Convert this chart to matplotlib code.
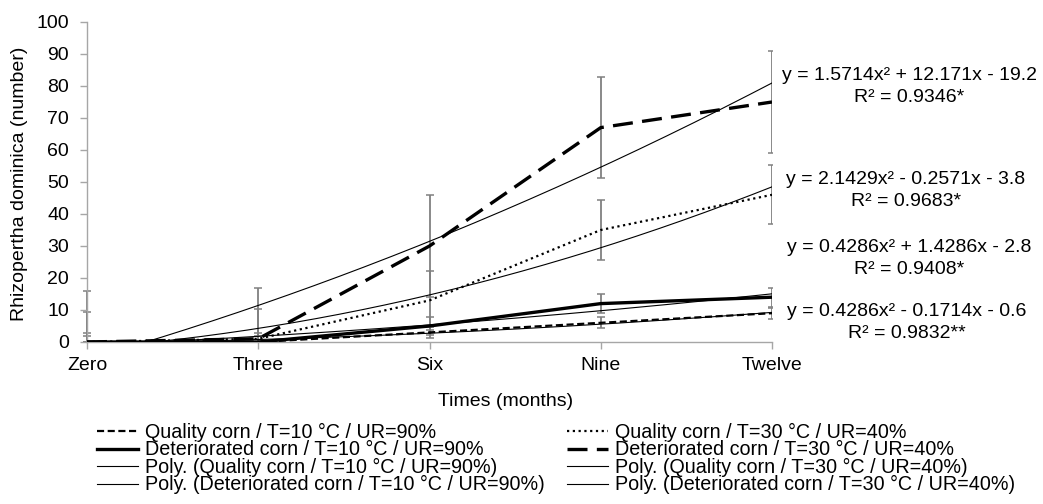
import numpy as np
from matplotlib import pyplot as plt

plt.rcParams['font.family'] = ['Liberation Sans', 'DejaVu Sans']

months = ["Zero", "Three", "Six", "Nine", "Twelve"]
x = np.array([1, 2, 3, 4, 5])

quality_10 = np.array([0, 0, 3, 6, 9])
deteriorated_10 = np.array([0, 0, 5, 12, 14])
quality_30 = np.array([0, 1, 13, 35, 46])
deteriorated_30 = np.array([0, 1, 30, 67, 75])

label_q10 = "Quality corn / T=10 °C / UR=90%"
label_d10 = "Deteriorated corn / T=10 °C / UR=90%"
label_q30 = "Quality corn / T=30 °C / UR=40%"
label_d30 = "Deteriorated corn / T=30 °C / UR=40%"

equations = [
    ("y = 1.5714x² + 12.171x - 19.2", "R² = 0.9346*"),
    ("y = 2.1429x² - 0.2571x - 3.8", "R² = 0.9683*"),
    ("y = 0.4286x² + 1.4286x - 2.8", "R² = 0.9408*"),
    ("y = 0.4286x² - 0.1714x - 0.6", "R² = 0.9832**"),
]


def std_error(y):
    # excel "standard error" bars: same value for every point of a series
    return np.std(y, ddof=1) / np.sqrt(len(y))


def trend(y, xs):
    c = np.polyfit(x, y, 2)
    return np.polyval(c, xs)


def main():
    W, H = 1043, 504
    fig = plt.figure(figsize=(W / 100, H / 100), dpi=100)
    ax = fig.add_axes([87 / W, 1 - 342 / H, (772 - 87) / W, (342 - 22) / H])

    series = [
        (quality_10, label_q10, dict(lw=1.6, dashes=(3.2, 1.6))),
        (quality_30, label_q30, dict(lw=1.6, linestyle=(0, (1, 1.6)))),
        (deteriorated_10, label_d10, dict(lw=2.4, linestyle="-")),
        (deteriorated_30, label_d30, dict(lw=2.4, dashes=(6, 2.8))),
    ]

    eb_style = dict(fmt="none", ecolor="#808080", elinewidth=1.3,
                    capsize=2.6, capthick=1.1, zorder=1)
    for y, _, _ in series:
        se = std_error(y)
        ax.errorbar(x[1:], y[1:], yerr=se, **eb_style)
        # first point sits on the y axis: show its upper half unclipped
        eb = ax.errorbar(x[:1], y[:1], yerr=[[0], [se]], **eb_style)
        for art in eb.get_children():
            art.set_clip_on(False)

    handles = {}
    for y, lab, st in series:
        line, = ax.plot(x, y, color="black", label=lab, zorder=3, **st)
        handles[lab] = line

    xs = np.linspace(1, 5, 300)
    for y, lab, _ in series:
        line, = ax.plot(xs, trend(y, xs), color="black", lw=0.8, zorder=2,
                        label="Poly. (" + lab + ")")
        handles["Poly. (" + lab + ")"] = line

    ax.set_xlim(1, 5)
    ax.set_ylim(0, 100)
    ax.set_xticks(x)
    ax.set_xticklabels(months)
    ax.set_yticks(np.arange(0, 101, 10))
    for s in ["top", "right"]:
        ax.spines[s].set_visible(False)
    for s in ["left", "bottom"]:
        ax.spines[s].set_color("#a6a6a6")
        ax.spines[s].set_linewidth(1.0)
    ax.tick_params(axis="both", direction="out", length=5, width=1.0,
                   color="#a6a6a6", labelsize=14, labelcolor="black")
    ax.tick_params(axis="y", pad=8)
    ax.tick_params(axis="x", pad=6)

    fig.text(20 / W, 1 - 184 / H, "Rhizopertha dominica (number)",
             rotation=90, ha="center", va="center", fontsize=14)
    fig.text(506 / W, 1 - 401 / H, "Times (months)", ha="center",
             va="center", fontsize=14)

    eq_pos = [(909, 75, 98), (906, 179, 201), (909, 247, 269), (907, 312, 334)]
    for (l1, l2), (cx, y1, y2) in zip(equations, eq_pos):
        fig.text(cx / W, 1 - y1 / H, l1, ha="center", va="center",
                 fontsize=14)
        fig.text(cx / W, 1 - y2 / H, l2, ha="center", va="center",
                 fontsize=14)

    order = [label_q10, label_d10, "Poly. (" + label_q10 + ")",
             "Poly. (" + label_d10 + ")", label_q30, label_d30,
             "Poly. (" + label_q30 + ")", "Poly. (" + label_d30 + ")"]
    fig.legend([handles[k] for k in order], order, ncol=2, loc="upper left",
               bbox_to_anchor=(97 / W, 1 - 423 / H), frameon=False,
               fontsize=14.2, handlelength=2.1, handletextpad=0.35,
               columnspacing=1.1, labelspacing=-0.08, borderpad=0,
               borderaxespad=0)

    fig.savefig("out.png", dpi=100)
    plt.close(fig)


if __name__ == "__main__":
    main()
